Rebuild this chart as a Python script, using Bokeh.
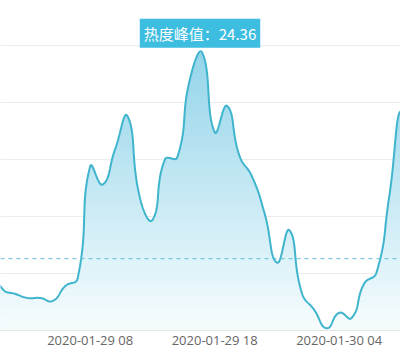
import numpy as np
import pandas as pd
from bokeh.plotting import figure
from bokeh.models import Range1d, FixedTicker, Grid, Span, Label, LinearAxis
from bokeh.embed import file_html
from bokeh.resources import INLINE

# ---- data (hourly heat values, 2020-01-29 00:00 .. 2020-01-30 11:00) ----
start_time = "2020-01-29 00:00"
heat = [5.5, 3.6, 3.2, 2.85, 2.85, 2.6, 3.9, 4.6,
        14.4, 12.8, 15.9, 18.8, 11.6, 9.7, 15.0, 15.2,
        22.0, 24.36, 17.4, 19.7, 15.3, 13.5, 10.3, 5.95,
        8.8, 3.3, 1.8, 0.2, 1.55, 1.1, 4.1, 5.1,
        11.6, 19.2, 10.5, 6.0]
avg_heat = 6.3
tick_labels = ["2020-01-29 08", "2020-01-29 18", "2020-01-30 04"]
grid_values = [5, 10, 15, 20, 25]
peak_title = "热度峰值："

times = pd.date_range(start_time, periods=len(heat), freq="h")
xs = np.arange(len(heat), dtype=float)          # hour index
tick_pos = [float(np.where(times.strftime("%Y-%m-%d %H") == t)[0][0]) for t in tick_labels]

# ---- echarts-like smooth curve (bezier, smooth = 0.5) ----
SX, SY = 12.45, 11.5   # approx pixel per unit, for segment-length ratios

def smooth_curve(x, y, smooth=0.5, n=24):
    X = np.asarray(x) * SX
    Y = np.asarray(y) * SY
    N = len(X)
    cpo = np.zeros((N, 2)); cpi = np.zeros((N, 2))
    for i in range(N):
        if i == 0 or i == N - 1:
            cpo[i] = cpi[i] = (X[i], Y[i]); continue
        vx, vy = X[i + 1] - X[i - 1], Y[i + 1] - Y[i - 1]
        l0 = np.hypot(X[i] - X[i - 1], Y[i] - Y[i - 1])
        l1 = np.hypot(X[i + 1] - X[i], Y[i + 1] - Y[i])
        r = l1 / (l0 + l1)
        cpo[i] = (X[i] + vx * smooth * r, Y[i] + vy * smooth * r)
        cpi[i] = (X[i] - vx * smooth * (1 - r), Y[i] - vy * smooth * (1 - r))
    t = np.linspace(0, 1, n, endpoint=False)[:, None]
    pts = []
    for i in range(N - 1):
        P0 = np.array([X[i], Y[i]]); P3 = np.array([X[i + 1], Y[i + 1]])
        P1 = cpo[i]; P2 = cpi[i + 1]
        b = (1 - t) ** 3 * P0 + 3 * (1 - t) ** 2 * t * P1 + 3 * (1 - t) * t ** 2 * P2 + t ** 3 * P3
        pts.append(b)
    pts.append(np.array([[X[-1], Y[-1]]]))
    pts = np.vstack(pts)
    return pts[:, 0] / SX, pts[:, 1] / SY

cx, cy = smooth_curve(xs, heat)

# ---- figure: frame fills the whole canvas; x axis sits inside at y = 0 ----
H = 347
y0_px = 330.0              # pixel row of value 0
y25_px = 45.0              # pixel row of value 25
k = (y0_px - y25_px) / 25.0
y_lo = -(H - y0_px) / k
y_hi = y0_px / k

p = figure(width=400, height=H, output_backend="svg", toolbar_location=None,
           x_range=Range1d(0.795, 32.924), y_range=Range1d(y_lo, y_hi),
           x_axis_location=None, y_axis_location=None,
           min_border=0, min_border_left=0, min_border_right=0,
           min_border_top=0, min_border_bottom=0)
p.outline_line_color = None
p.background_fill_color = "white"
p.border_fill_color = "white"
p.xgrid.visible = False
p.ygrid.visible = False
p.add_layout(Grid(dimension=1, ticker=FixedTicker(ticks=grid_values),
                  grid_line_color="#ececec", grid_line_width=1))

# vertical gradient fill built from stacked bands
top_c = np.array([148, 213, 234]); bot_c = np.array([247, 252, 254])
vmax = max(heat)
NB = 40
for kk in range(NB, 0, -1):
    level = vmax * kk / NB
    f = (kk - 0.5) / NB
    c = bot_c + (top_c - bot_c) * f
    col = "#%02x%02x%02x" % tuple(int(round(v)) for v in c)
    p.varea(x=cx, y1=np.zeros_like(cy), y2=np.minimum(cy, level), fill_color=col)

p.line(cx, cy, line_color="#3fb4cd", line_width=2)

p.add_layout(Span(location=avg_heat, dimension="width", line_color="#5cbfd4",
                  line_dash="4 4", line_width=1))

ipk = int(np.argmax(heat))
lab = Label(x=xs[ipk] - 0.18, y=heat[ipk], y_offset=5, text=f"{peak_title}{heat[ipk]}",
            text_align="center", text_baseline="bottom",
            text_font="Noto Sans CJK SC", text_font_size="15px", text_color="white",
            background_fill_color="#3dbde0", padding=4)
p.add_layout(lab)

ax = LinearAxis(fixed_location=0)
ax.ticker = FixedTicker(ticks=tick_pos)
ax.major_label_overrides = {tp: t for tp, t in zip(tick_pos, tick_labels)}
ax.axis_line_color = "#e6e6e6"
ax.major_tick_line_color = None
ax.major_tick_out = 0
ax.major_tick_in = 0
ax.minor_tick_line_color = None
ax.minor_tick_out = 0
ax.minor_tick_in = 0
ax.major_label_text_font = "Open Sans"
ax.major_label_text_font_size = "13px"
ax.major_label_text_color = "#666666"
ax.major_label_standoff = 0
p.add_layout(ax, "below")

open("out.html", "w").write(file_html(p, INLINE))
